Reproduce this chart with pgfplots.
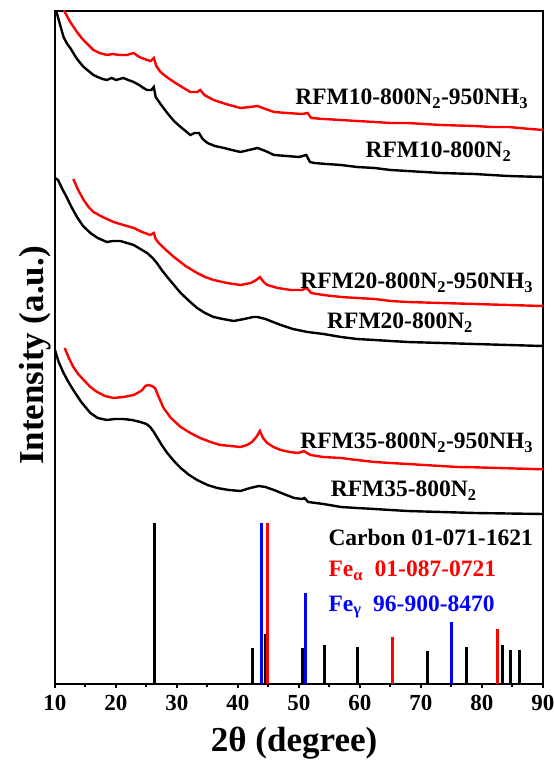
\documentclass[border=0pt]{standalone}
\usepackage{pgfplots}
\pgfplotsset{compat=1.18}
\usepackage{fontspec}
\setmainfont{Liberation Serif}
\begin{document}
\begin{tikzpicture}
\begin{axis}[name=ax,
  scale only axis, width=488pt, height=673pt,
  xmin=10, xmax=90, ymin=0, ymax=673,
  xtick={10,20,...,90}, minor x tick num=1,
  ytick=\empty, xtick pos=bottom,
  tick align=outside, major tick length=4pt, minor tick length=3pt,
  every tick/.style={line width=2pt, black},
  axis line style={line width=2pt},
  /pgf/number format/assume math mode=true,
  tick label style={font=\fontsize{23}{23}\selectfont\bfseries},
  xticklabel style={yshift=-4pt},
  xlabel={2θ (degree)},
  ylabel={Intensity (a.u.)},
  label style={font=\fontsize{35}{35}\selectfont\bfseries},
  xlabel style={at={(axis description cs:0.49,0)}, anchor=base, yshift=-67pt},
  ylabel style={at={(axis description cs:0,0.488)}, anchor=base, yshift=11pt},
  every node/.style={inner sep=0pt},
  clip=true,
]
% RFM10-800N2 (black)
\addplot[black, line width=2.4pt] coordinates {
(10.0,673) (10.3,671) (10.8,660) (11.4,647) (12.0,640) (12.5,636) (13.0,631) (13.5,626) (14.0,622) (14.7,617) (15.3,614) (16.3,609) (17.0,607) (17.8,605) (18.5,604) (19.3,606) (20.0,604) (21.2,606) (22.0,604) (22.9,602) (23.8,599) (24.5,596) (25.1,594) (25.8,594) (26.2,597) (26.5,587) (27.3,580) (28.4,571) (29.5,563) (30.6,557) (31.4,553) (32.2,549) (32.9,551) (33.6,551) (34.2,545) (35.0,541) (36.2,538) (37.7,536) (39.0,534) (40.4,532) (41.8,534) (43.2,536) (44.5,533) (45.9,529) (48.0,528) (50.0,527) (51.2,529) (51.8,522) (52.5,521) (54.5,520) (56.9,519) (59.5,517) (62.4,516) (65.0,514) (67.8,513) (70.5,512) (73.3,511) (76.0,510.5) (78.8,510) (81.5,509) (84.3,508) (87.0,507.5) (90.0,507)
};
% RFM10-800N2-950NH3 (red)
\addplot[red, line width=2.4pt] coordinates {
(11.4,676) (11.6,672) (12.5,662) (13.6,652) (14.5,645) (15.3,640) (16.3,634) (17.3,631) (18.5,629) (19.5,630) (20.5,629) (21.8,629) (22.9,631) (23.8,627) (25.1,624) (25.7,623) (26.2,626) (26.6,618) (27.3,612) (28.3,607) (29.5,602) (30.8,597) (32.2,592) (33.3,592) (33.8,594) (34.5,589) (36.0,584) (38.0,580) (40.4,576) (42.0,577) (43.2,578) (44.5,575) (45.9,572) (48.0,571) (50.5,570) (51.4,571) (52.0,566) (54.0,565) (56.9,564) (59.5,563) (62.4,562) (65.0,561) (67.8,561) (70.5,560) (73.3,559) (76.0,558.5) (78.8,558) (81.5,557) (84.3,557) (87.0,555.5) (90.0,554)
};
% RFM20-800N2 (black)
\addplot[black, line width=2.4pt] coordinates {
(10.0,506) (10.5,504) (11.2,495) (11.9,487) (12.7,477) (13.6,467) (14.6,458) (15.8,451) (17.0,446) (18.5,442) (19.5,443) (20.7,443) (21.8,441) (22.9,439) (24.0,435) (25.1,431) (26.0,426) (26.7,421) (27.5,414) (28.4,407) (29.5,399) (30.6,391) (32.0,383) (33.3,376) (34.6,371) (36.0,367) (37.5,365) (39.3,363) (41.0,365) (42.5,367) (43.2,367) (44.5,365) (47.0,359) (49.0,355) (51.4,352) (54.0,350) (56.9,347) (59.5,345) (62.4,344) (65.0,343) (67.8,342) (73.3,341) (78.8,340) (84.3,339) (90.0,338)
};
% RFM20-800N2-950NH3 (red)
\addplot[red, line width=2.4pt] coordinates {
(13.0,505) (13.8,494) (14.7,484) (15.5,477) (16.3,472) (17.8,467) (19.6,462) (21.2,459) (22.9,456) (24.3,452) (25.6,449) (26.2,451) (26.5,445) (27.0,441) (28.2,434) (29.5,427) (31.4,418) (33.3,411) (34.6,407) (36.0,404) (38.2,401) (40.4,399) (42.1,401) (43.0,404) (43.6,407) (44.2,402) (44.8,399) (46.5,396) (48.7,394) (50.5,394) (51.3,396) (52.0,391) (54.0,389) (56.9,387) (59.5,386) (62.4,385) (65.0,383) (67.8,382) (73.3,381) (78.8,380) (84.3,379) (90.0,378)
};
% RFM35-800N2 (black)
\addplot[black, line width=2.4pt] coordinates {
(10.0,334) (10.6,322) (11.4,311) (12.2,302) (13.0,294) (14.3,282) (15.8,271) (17.0,266) (18.5,264) (19.8,265) (21.2,265) (22.6,264) (24.0,262) (25.0,260) (25.6,257) (26.2,252) (26.7,247) (27.5,239) (28.4,231) (29.5,223) (30.6,216) (32.0,209) (33.3,204) (35.0,199) (36.6,196) (38.5,194) (40.4,193) (42.0,196) (43.4,198) (44.5,197) (45.9,194) (47.5,190) (49.2,186) (50.5,185) (50.9,186) (51.5,182) (54.0,180) (56.9,177) (59.5,176) (62.4,175) (65.0,174) (67.8,173) (73.3,172) (78.8,171) (84.3,170.5) (90.0,170)
};
% RFM35-800N2-950NH3 (red)
\addplot[red, line width=2.4pt] coordinates {
(11.6,336) (12.2,327) (13.0,317) (13.8,310) (14.7,304) (15.8,297) (16.9,292) (18.2,288) (19.6,286) (21.2,287) (22.9,289) (23.8,292) (24.3,294) (24.8,298) (25.3,299) (25.9,298) (26.4,296) (27.0,287) (27.8,276) (29.0,266) (30.6,257) (32.2,251) (33.8,246) (35.5,242) (37.1,239) (38.8,238) (40.4,237) (41.5,239) (42.3,242) (43.0,247) (43.6,253) (44.1,246) (44.8,241) (45.8,237) (47.0,234) (48.5,232) (49.8,231) (50.4,232) (50.8,233) (51.3,231) (51.9,229) (54.0,227) (56.9,226) (59.5,224) (62.4,222) (65.0,221) (67.8,220) (70.5,219) (73.3,218) (76.0,217) (78.8,216.7) (84.3,215.7) (90.0,214.7)
};
% reference sticks
\addplot[ycomb, black, line width=3pt, mark=none] coordinates {
(26.3,161) (42.4,36) (44.5,50) (50.6,36) (54.1,39) (59.6,37) (71.0,33) (77.4,37) (83.4,39) (84.7,34) (86.1,34)
};
\addplot[ycomb, blue, line width=3pt, mark=none] coordinates {
(43.8,161) (51.0,91) (75.0,62)
};
\addplot[ycomb, red, line width=3pt, mark=none] coordinates {
(44.8,161) (65.3,47) (82.6,55)
};
% labels
\begin{scope}[font=\fontsize{23.5}{23.5}\selectfont\bfseries]
\node[anchor=base east] at (axis cs:88.15,579) {RFM10-800N\textsubscript{2}-950NH\textsubscript{3}};
\node[anchor=base east] at (axis cs:85.4,526) {RFM10-800N\textsubscript{2}};
\node[anchor=base east] at (axis cs:88.97,395.7) {RFM20-800N\textsubscript{2}-950NH\textsubscript{3}};
\node[anchor=base east] at (axis cs:79.1,355.7) {RFM20-800N\textsubscript{2}};
\node[anchor=base east] at (axis cs:88.97,235.7) {RFM35-800N\textsubscript{2}-950NH\textsubscript{3}};
\node[anchor=base east] at (axis cs:79.7,187.3) {RFM35-800N\textsubscript{2}};
\node[anchor=base west] at (axis cs:54.26,138.3) {Carbon 01-071-1621};
\node[anchor=base west, text=red] at (axis cs:54.26,107.3) {Fe\textsubscript{α}\ \ 01-087-0721};
\node[anchor=base west, text=blue] at (axis cs:54.26,73) {Fe\textsubscript{γ}\ \ 96-900-8470};
\end{scope}
\end{axis}
\pgfresetboundingbox
\path[use as bounding box] ([xshift=-55pt,yshift=-76pt]ax.south west) rectangle ([xshift=11pt,yshift=11pt]ax.north east);
\end{tikzpicture}
\end{document}
